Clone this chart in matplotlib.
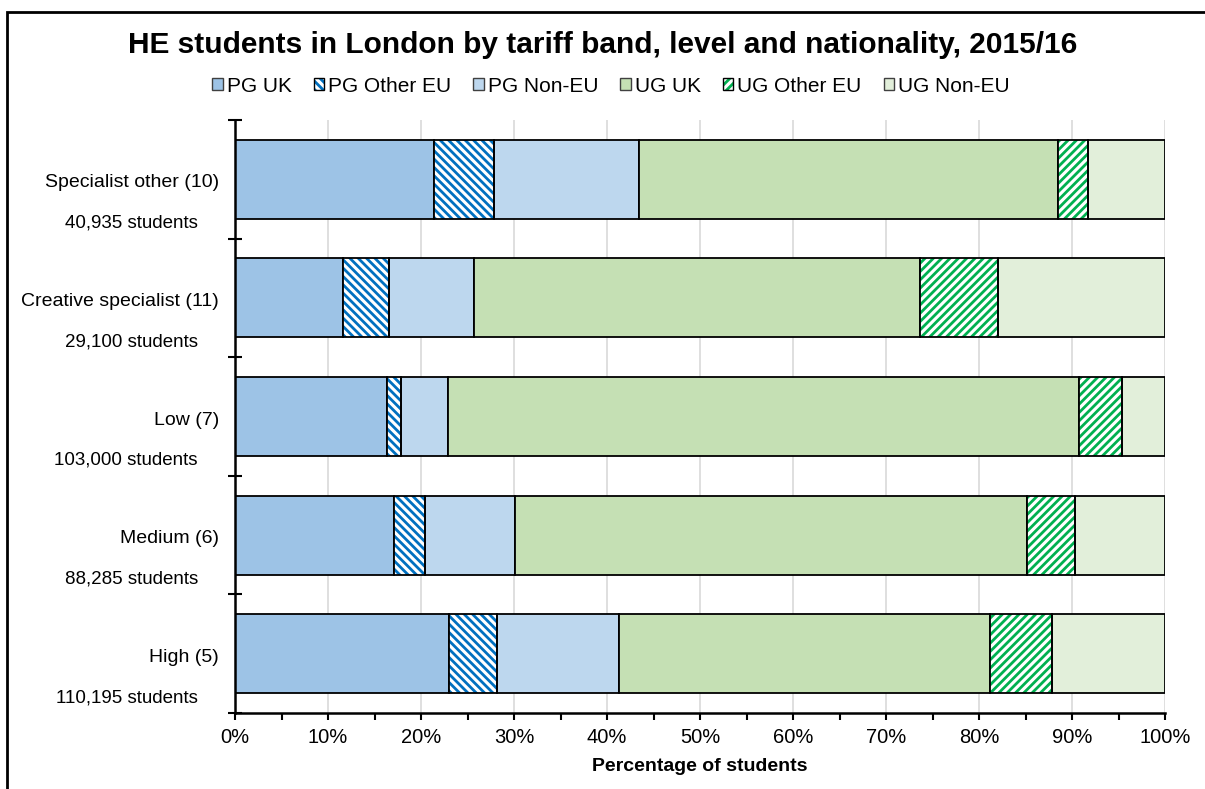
import matplotlib
matplotlib.use("Agg")
import matplotlib.pyplot as plt
from matplotlib.patches import Patch, Rectangle
from matplotlib.ticker import MultipleLocator, FuncFormatter

plt.rcParams['font.family'] = ['Liberation Sans', 'DejaVu Sans']
plt.rcParams['hatch.linewidth'] = 2.0

# Data (top to bottom as in the chart)
categories = ["Specialist other (10)", "Creative specialist (11)", "Low (7)", "Medium (6)", "High (5)"]
student_counts = ["40,935 students", "29,100 students", "103,000 students", "88,285 students", "110,195 students"]
series_names = ["PG UK", "PG Other EU", "PG Non-EU", "UG UK", "UG Other EU", "UG Non-EU"]
pg_uk       = [21.4, 11.6, 16.3, 17.1, 23.0]
pg_other_eu = [6.5, 5.0, 1.5, 3.3, 5.2]
pg_non_eu   = [15.5, 9.1, 5.1, 9.7, 13.1]
ug_uk       = [45.1, 48.0, 67.8, 55.1, 39.9]
ug_other_eu = [3.2, 8.3, 4.7, 5.1, 6.6]
ug_non_eu   = [8.3, 18.0, 4.6, 9.7, 12.2]

series = [pg_uk, pg_other_eu, pg_non_eu, ug_uk, ug_other_eu, ug_non_eu]
styles = [
    dict(fc="#9DC3E6", hatch=None, hc=None),
    dict(fc="white", hatch="\\\\\\\\", hc="#0070C0"),
    dict(fc="#BDD7EE", hatch=None, hc=None),
    dict(fc="#C5E0B4", hatch=None, hc=None),
    dict(fc="white", hatch="////", hc="#00B050"),
    dict(fc="#E2EFDA", hatch=None, hc=None),
]

W, H = 1205, 789
fig = plt.figure(figsize=(W / 100, H / 100), dpi=100)
ax = fig.add_axes([235 / W, (H - 713) / H, (1165 - 235) / W, (713 - 120) / H])

n = len(categories)
ypos = [n - 1 - i for i in range(n)]
bar_h = 0.666
left = [0.0] * n
handles = []
for vals, st, name in zip(series, styles, series_names):
    if st["hatch"]:
        ax.barh(ypos, vals, left=left, height=bar_h, color=st["fc"], edgecolor=st["hc"],
                hatch=st["hatch"], linewidth=0, zorder=3)
        ax.barh(ypos, vals, left=left, height=bar_h, fill=False, edgecolor="black",
                linewidth=1.3, zorder=4)
        h = (Patch(facecolor="white", edgecolor=st["hc"], hatch=st["hatch"], linewidth=0),
             Patch(fill=False, edgecolor="black", linewidth=1.0))
    else:
        ax.barh(ypos, vals, left=left, height=bar_h, color=st["fc"], edgecolor="black",
                linewidth=1.3, zorder=3)
        h = Patch(facecolor=st["fc"], edgecolor="#404040", linewidth=1.0)
    handles.append(h)
    left = [l + v for l, v in zip(left, vals)]

ax.set_xlim(0, 100)
ax.set_ylim(-0.5, n - 0.5)
ax.xaxis.set_major_locator(MultipleLocator(10))
ax.xaxis.set_minor_locator(MultipleLocator(5))
ax.xaxis.set_major_formatter(FuncFormatter(lambda v, p: f"{int(round(v))}%"))
ax.set_yticks([i - 0.5 for i in range(n + 1)])
ax.set_yticklabels([])
ax.tick_params(axis="y", which="major", direction="inout", length=10, width=1.5, color="black")
ax.tick_params(axis="x", which="major", direction="out", length=5, width=1.5, labelsize=14.5, pad=6)
ax.tick_params(axis="x", which="minor", direction="out", length=5, width=1.5)
ax.grid(axis="x", which="major", color="#d9d9d9", linewidth=1.2, zorder=0)
ax.set_axisbelow(True)
for s in ["top", "right"]:
    ax.spines[s].set_visible(False)
for s in ["left", "bottom"]:
    ax.spines[s].set_linewidth(1.8)
    ax.spines[s].set_zorder(5)
ax.set_xlabel("Percentage of students", fontsize=14, fontweight="bold", labelpad=8)

for i, (cat, cnt) in enumerate(zip(categories, student_counts)):
    y = ypos[i]
    ax.text(-1.7, y - 0.03, cat, ha="right", va="center", fontsize=14, transform=ax.transData, clip_on=False)
    ax.text(-4.0, y - 0.37, cnt, ha="right", va="center", fontsize=13.5, transform=ax.transData, clip_on=False)

fig.text(0.5, (H - 45) / H, "HE students in London by tariff band, level and nationality, 2015/16",
         ha="center", va="center", fontsize=21.5, fontweight="bold")

fig.legend(handles, series_names, loc="center", bbox_to_anchor=(611 / W, (H - 86) / H), ncol=6,
           frameon=False, fontsize=15, handlelength=0.5, handleheight=0.5, handletextpad=0.2,
           columnspacing=1.05)

fig.add_artist(Rectangle((6.5 / W, -0.1), 2, 1.1 - 11.5 / H, transform=fig.transFigure,
                         fill=False, edgecolor="black", linewidth=2))

fig.savefig("out.png", dpi=100)
